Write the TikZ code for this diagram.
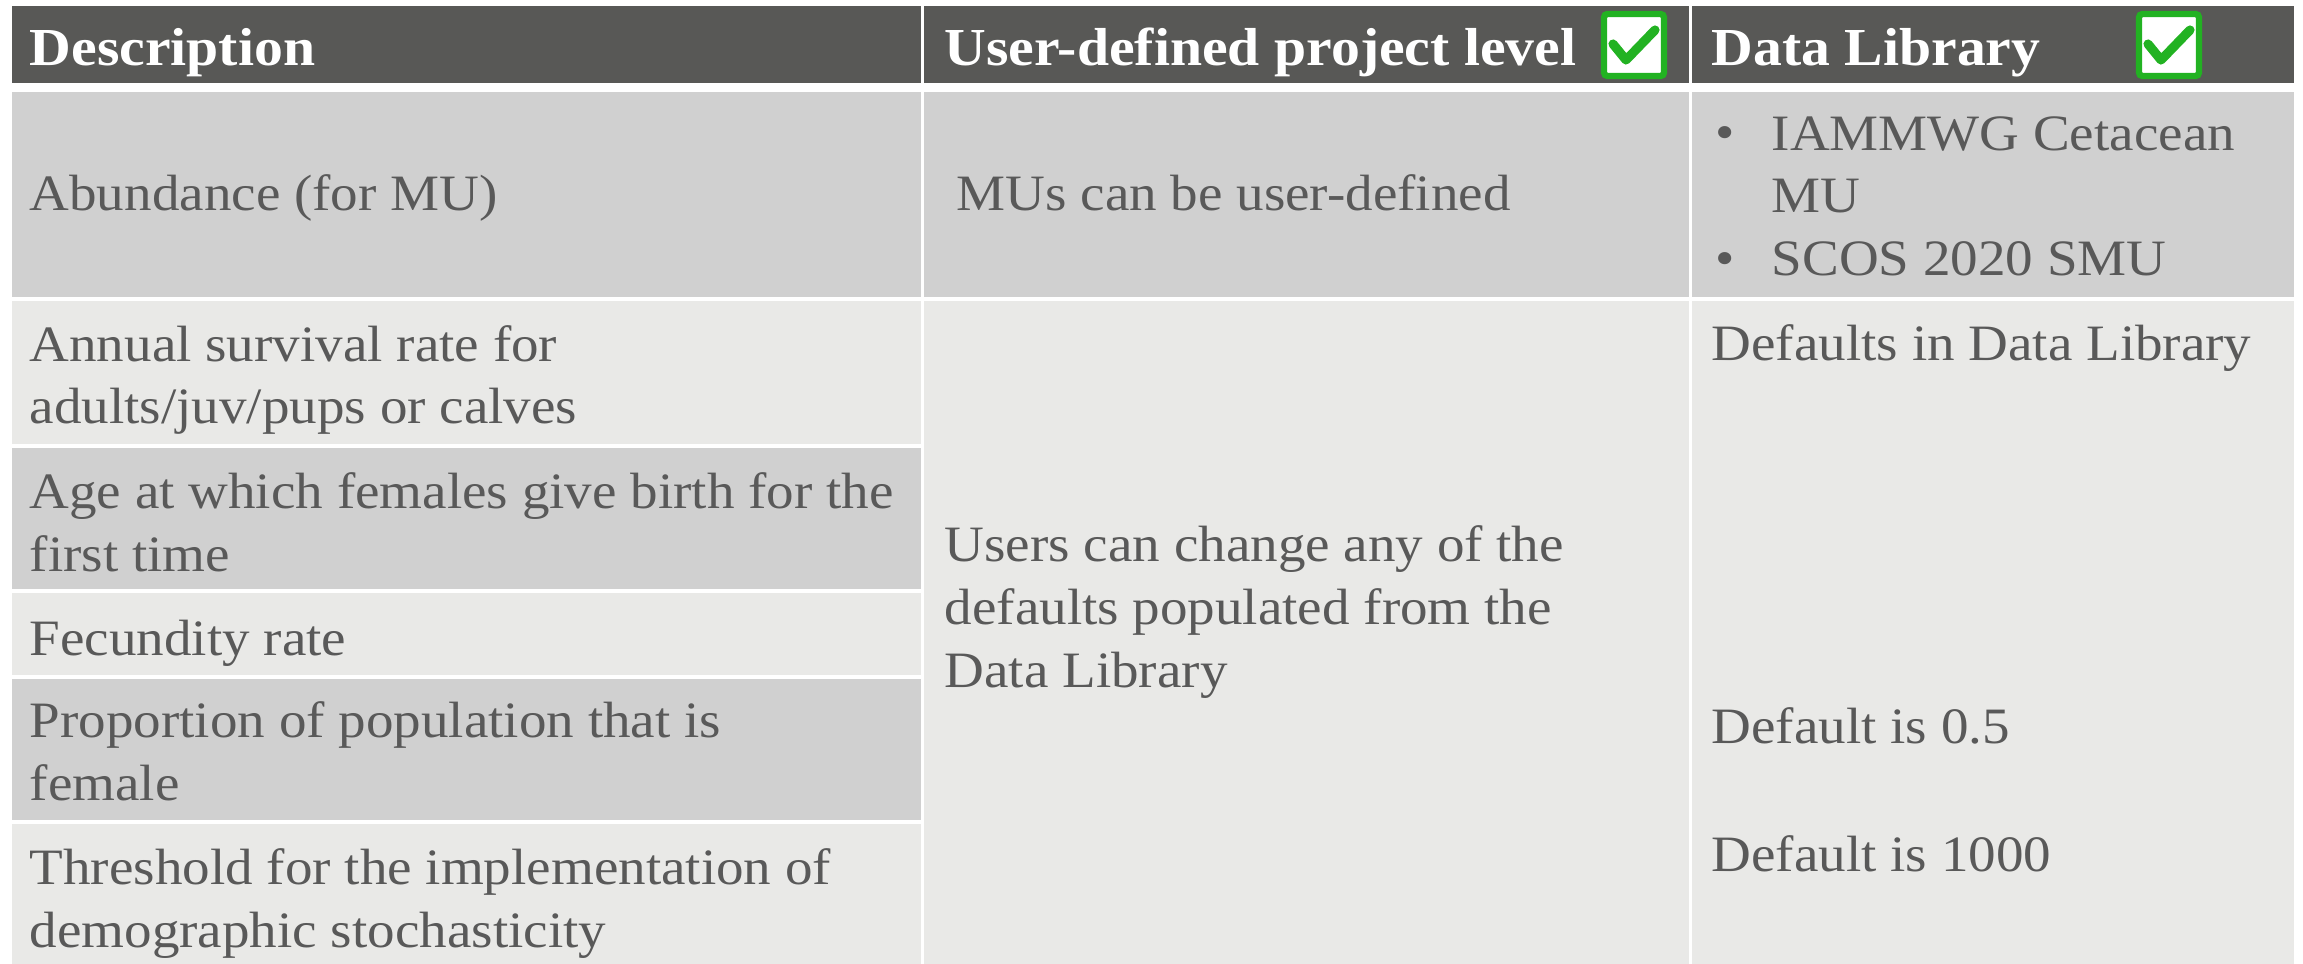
\documentclass[tikz,border=0pt]{standalone}
\usepackage{fontspec}
\setmainfont[FakeStretch=1.08]{Liberation Serif}
\usetikzlibrary{positioning}
\definecolor{hdrgray}{RGB}{88,88,86}
\definecolor{darkrow}{RGB}{208,208,208}
\definecolor{lightrow}{RGB}{233,233,231}
\definecolor{txtgray}{RGB}{89,89,89}
\definecolor{tickgreen}{RGB}{34,178,34}
\tikzstyle{hdr} = [anchor=base west, inner sep=0pt, text=white, font=\fontsize{15.2}{18}\selectfont\bfseries]
\tikzstyle{cell} = [anchor=base west, inner sep=0pt, align=left, text=txtgray, font=\fontsize{14.5}{17.9}\selectfont]
\tikzstyle{tick} = [tickgreen, line width=2.6pt, line cap=round, line join=round]
\tikzset{tickbox/.style={draw=tickgreen, line width=1.8pt, fill=white, rounded corners=1pt, minimum width=0.6cm, minimum height=0.62cm, inner sep=0pt}}

\begin{document}
\begin{tikzpicture}[x=0.01cm, y=-0.01cm]
    \useasboundingbox (0,0) rectangle (2303,964);
    \fill[white] (0,0) rectangle (2303,964);

    % header row
    \fill[hdrgray] (12,6) rectangle (921,83);
    \fill[hdrgray] (924,6) rectangle (1689,83);
    \fill[hdrgray] (1692,6) rectangle (2294,83);

    % first body row
    \fill[darkrow] (12,92) rectangle (921,297);
    \fill[darkrow] (924,92) rectangle (1689,297);
    \fill[darkrow] (1692,92) rectangle (2294,297);

    % description column, alternating
    \fill[lightrow] (12,301) rectangle (921,444);
    \fill[darkrow] (12,448) rectangle (921,589);
    \fill[lightrow] (12,593) rectangle (921,675);
    \fill[darkrow] (12,679) rectangle (921,820);
    \fill[lightrow] (12,824) rectangle (921,964);

    % merged cells
    \fill[lightrow] (924,301) rectangle (1689,964);
    \fill[lightrow] (1692,301) rectangle (2294,964);

    % headings
    \node [hdr] (hdesc) at (29,66) {Description};
    \node [hdr] (huser) at (944,66) {User-defined project level};
    \node [hdr] (hlib) at (1711,66) {Data Library};
    \node [tickbox] (tick1) at (1634,45) {};
    \node [tickbox] (tick2) at (2169,45) {};
    \draw[tick] ([shift={(-0.21cm,0.01cm)}]tick1.center) -- ([shift={(-0.08cm,-0.15cm)}]tick1.center) -- ([shift={(0.21cm,0.15cm)}]tick1.center);
    \draw[tick] ([shift={(-0.21cm,0.01cm)}]tick2.center) -- ([shift={(-0.08cm,-0.15cm)}]tick2.center) -- ([shift={(0.21cm,0.15cm)}]tick2.center);

    % abundance row (multi-line nodes sit on their last baseline)
    \node [cell] (abund) at (29,211) {Abundance (for MU)};
    \node [cell] (muuser) at (956,211) {MUs can be user-defined};
    \node [cell] (dot1) at (1715,150) {\textbullet};
    \node [cell] (iammwg) at (1771,213) {IAMMWG Cetacean\\MU};
    \node [cell] (dot2) at (1715,276) {\textbullet};
    \node [cell] (scos) at (1771,276) {SCOS 2020 SMU};

    % parameter rows
    \node [cell] (surv) at (29,424) {Annual survival rate for\\adults/juv/pups or calves};
    \node [cell] (agebirth) at (29,571) {Age at which females give birth for the\\first time};
    \node [cell] (fecund) at (29,655) {Fecundity rate};
    \node [cell] (propfem) at (29,800) {Proportion of population that is\\female};
    \node [cell] (thresh) at (29,947) {Threshold for the implementation of\\demographic stochasticity};

    \node [cell] (change) at (944,687) {Users can change any of the\\defaults populated from the\\Data Library};

    \node [cell] (defaults) at (1711,361) {Defaults in Data Library};
    \node [cell] (half) at (1711,743) {Default is 0.5};
    \node [cell] (thousand) at (1711,871) {Default is 1000};
\end{tikzpicture}
\end{document}
